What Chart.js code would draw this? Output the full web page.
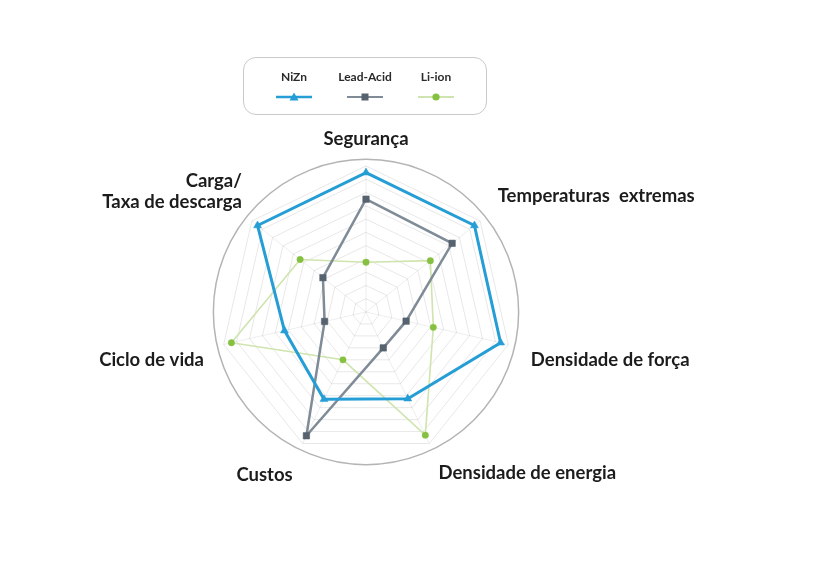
<!DOCTYPE html>
<html>
<head>
<meta charset="utf-8">
<script src="https://cdn.jsdelivr.net/npm/chart.js@4.4.1/dist/chart.umd.min.js"></script>
<style>
  html, body { margin: 0; padding: 0; background: #ffffff; }
  #wrap { position: relative; width: 814px; height: 585px; }
  #chart { position: absolute; left: 0; top: 0; }
  #legend {
    position: absolute; left: 243px; top: 57px; width: 244px; height: 58px;
    box-sizing: border-box; border: 1.5px solid #c9c9c9; border-radius: 13px;
    display: flex; justify-content: center; align-items: flex-start; padding-top: 12px;
    font-family: Lato, "Noto Sans", sans-serif;
  }
  .item { width: 71px; display: flex; flex-direction: column; align-items: center; }
  .item span { font-size: 12px; font-weight: 700; color: #2a2a2a; line-height: 14px; }
  .item svg { margin-top: 8px; display: block; }
</style>
</head>
<body>
<div id="wrap">
  <canvas id="chart" width="814" height="585"></canvas>
  <div id="legend"></div>
</div>
<script>
// ---- data ----
const categories = [
  'Segurança',
  'Temperaturas  extremas',
  'Densidade de força',
  'Densidade de energia',
  'Custos',
  'Ciclo de vida',
  ['Carga/', 'Taxa de descarga']
];
const seriesNames = ['NiZn', 'Lead-Acid', 'Li-ion'];
const niznValues     = [10.5, 10.45, 10.4, 7.25, 7.3, 6.3, 10.45];
const leadAcidValues = [8.5, 8.3, 3.1, 3.0, 10.35, 3.2, 4.15];
const liIonValues    = [3.75, 6.2, 5.2, 10.3, 4.0, 10.4, 6.35];
const scaleMax = 11;         // number of heptagon rings
const outerRingValue = 11.5; // outer circle

// ---- styles ----
const lineColors  = ['#259dd5', '#7f8b96', '#cfe4ae'];
const pointColors = ['#259dd5', '#56626e', '#86c040'];
const lineWidths  = [3, 2.5, 1.6];
const pointStyles = ['triangle', 'rect', 'circle'];
const pointRadii  = [4.6, 4.6, 3.2];
const labelPad    = [16.4, 22.4, 23.1, 21.1, 23, 20.2, 12.8];

const seriesValues = [niznValues, leadAcidValues, liIonValues];

const outerCircle = {
  id: 'outerCircle',
  beforeDatasetsDraw(chart) {
    const s = chart.scales.r;
    const ctx = chart.ctx;
    ctx.save();
    ctx.beginPath();
    ctx.arc(s.xCenter, s.yCenter, s.getDistanceFromCenterForValue(outerRingValue), 0, Math.PI * 2);
    ctx.strokeStyle = '#b4b4b4';
    ctx.lineWidth = 1.5;
    ctx.stroke();
    ctx.restore();
  }
};

new Chart(document.getElementById('chart'), {
  type: 'radar',
  data: {
    labels: categories,
    datasets: seriesNames.map((name, i) => ({
      label: name,
      data: seriesValues[i],
      borderColor: lineColors[i],
      backgroundColor: 'transparent',
      borderWidth: lineWidths[i],
      fill: false,
      tension: 0,
      pointStyle: pointStyles[i],
      pointRadius: pointRadii[i],
      pointBackgroundColor: pointColors[i],
      pointBorderColor: pointColors[i],
      pointBorderWidth: 0.5
    }))
  },
  options: {
    responsive: false,
    animation: false,
    layout: { padding: { left: 0, right: 81, top: 123, bottom: 94 } },
    plugins: { legend: { display: false }, tooltip: { enabled: false } },
    scales: {
      r: {
        min: 0,
        max: scaleMax,
        ticks: { display: false, stepSize: 1 },
        grid: { color: 'rgba(0,0,0,0.095)', lineWidth: 1, circular: false },
        angleLines: { display: true, color: 'rgba(0,0,0,0.07)', lineWidth: 1 },
        pointLabels: {
          display: true,
          color: '#1c1c1c',
          font: { family: 'Lato', size: 18.5, weight: 'bold', lineHeight: '21.6px' },
          padding: (ctx) => labelPad[ctx.index]
        }
      }
    }
  },
  plugins: [outerCircle]
});

// ---- HTML legend ----
const legend = document.getElementById('legend');
seriesNames.forEach((name, i) => {
  const item = document.createElement('div');
  item.className = 'item';
  const span = document.createElement('span');
  span.textContent = name;
  item.appendChild(span);
  const ns = 'http://www.w3.org/2000/svg';
  const svg = document.createElementNS(ns, 'svg');
  svg.setAttribute('width', '38'); svg.setAttribute('height', '10');
  const ln = document.createElementNS(ns, 'line');
  ln.setAttribute('x1', '1'); ln.setAttribute('x2', '37');
  ln.setAttribute('y1', '5'); ln.setAttribute('y2', '5');
  ln.setAttribute('stroke', lineColors[i]);
  ln.setAttribute('stroke-width', i === 0 ? '2.6' : '2.2');
  svg.appendChild(ln);
  let m;
  if (pointStyles[i] === 'triangle') {
    m = document.createElementNS(ns, 'polygon');
    m.setAttribute('points', '19,0.5 23.5,8.5 14.5,8.5');
  } else if (pointStyles[i] === 'rect') {
    m = document.createElementNS(ns, 'rect');
    m.setAttribute('x', '15.5'); m.setAttribute('y', '1.5');
    m.setAttribute('width', '7'); m.setAttribute('height', '7');
  } else {
    m = document.createElementNS(ns, 'circle');
    m.setAttribute('cx', '19'); m.setAttribute('cy', '5'); m.setAttribute('r', '3.6');
  }
  m.setAttribute('fill', pointColors[i]);
  svg.appendChild(m);
  item.appendChild(svg);
  legend.appendChild(item);
});
</script>
</body>
</html>
